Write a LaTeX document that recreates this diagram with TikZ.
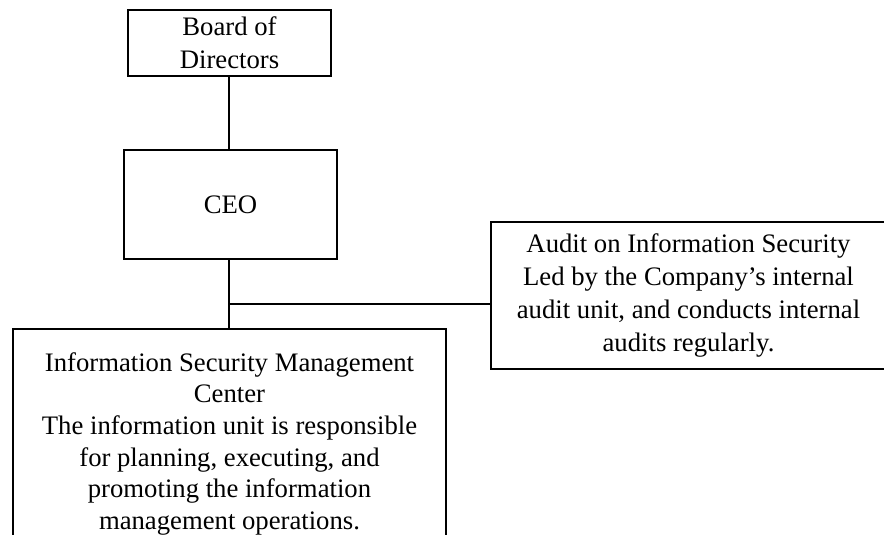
\documentclass[tikz,border=0pt]{standalone}
\usepackage{fontspec}
\setmainfont{Liberation Serif}
\begin{document}
\begin{tikzpicture}[x=1pt,y=-1pt,
  orgbox/.style={draw=black, line width=1.7pt, rectangle, align=center, inner sep=0pt,
    font=\fontsize{26.7}{33}\selectfont},
  link/.style={draw=black, line width=1.7pt}]
\useasboundingbox (0,0) rectangle (884,535);
\fill[white] (0,0) rectangle (884,535);
\node[orgbox, minimum width=203pt, minimum height=66pt] (board) at (229.5,43)
  {Board of\\Directors};
\node[orgbox, minimum width=213pt, minimum height=109pt] (ceo) at (230.5,204.5)
  {CEO};
\node[orgbox, minimum width=395pt, minimum height=147pt] (audit) at (688.5,295.5)
  {Audit on Information Security\\Led by the Company’s internal\\audit unit, and conducts internal\\audits regularly.};
\node[orgbox, anchor=north, minimum width=433pt, inner ysep=7pt, minimum height=230pt,
  font=\fontsize{26.7}{31.6}\selectfont] (isms) at (229.5,328)
  {Information Security Management\\Center\\The information unit is responsible\\for planning, executing, and\\promoting the information\\management operations.};
\coordinate (junc) at (229,304);
\draw[link] (board.south -| junc) -- (ceo.north -| junc);
\draw[link] (ceo.south -| junc) -- (isms.north -| junc);
\draw[link] (junc) -- (junc -| audit.west);
\end{tikzpicture}
\end{document}
